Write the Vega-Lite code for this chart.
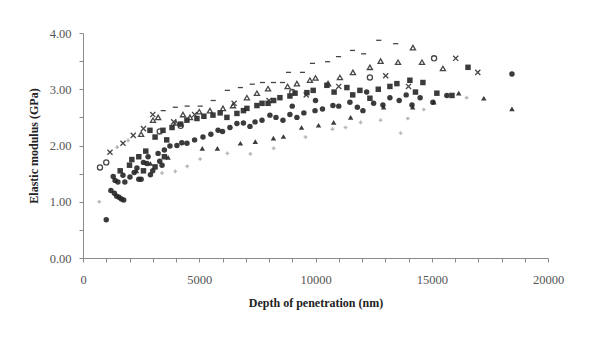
{
  "$schema": "https://vega.github.io/schema/vega-lite/v6.json",
  "width": 465,
  "height": 225,
  "autosize": {"type": "none"},
  "padding": {"left": 83, "top": 33, "right": 51, "bottom": 81},
  "background": "white",
  "config": {
    "view": {"stroke": null},
    "font": "Liberation Serif",
    "axis": {"grid": false, "domainColor": "#8a8a8a", "tickColor": "#8a8a8a", "labelColor": "#555", "labelFont": "Liberation Serif", "labelFontSize": 12.5, "titleFont": "Liberation Serif", "titleFontWeight": "bold", "titleFontSize": 12, "titleColor": "#222"}
  },
  "data": {"values": [
    {"s":"A","x":1000,"y":0.68},{"s":"A","x":1200,"y":1.20},{"s":"A","x":1350,"y":1.15},{"s":"A","x":1450,"y":1.10},{"s":"A","x":1550,"y":1.08},{"s":"A","x":1650,"y":1.05},{"s":"A","x":1750,"y":1.03},
    {"s":"A","x":1380,"y":1.38},{"s":"A","x":1720,"y":1.47},{"s":"A","x":2020,"y":1.44},{"s":"A","x":2320,"y":1.60},{"s":"A","x":2750,"y":1.68},{"s":"A","x":3230,"y":1.86},{"s":"A","x":3740,"y":1.99},{"s":"A","x":4040,"y":2.00},{"s":"A","x":4470,"y":2.04},{"s":"A","x":5160,"y":2.15},{"s":"A","x":5810,"y":2.27},{"s":"A","x":6320,"y":2.32},{"s":"A","x":6620,"y":2.39},{"s":"A","x":7180,"y":2.34},{"s":"A","x":7700,"y":2.45},{"s":"A","x":8040,"y":2.54},{"s":"A","x":8600,"y":2.45},{"s":"A","x":9200,"y":2.50},{"s":"A","x":9980,"y":2.62},{"s":"A","x":10750,"y":2.71},{"s":"A","x":11480,"y":2.77},{"s":"A","x":12040,"y":2.62},{"s":"A","x":12900,"y":2.72},{"s":"A","x":13600,"y":2.80},{"s":"A","x":14150,"y":2.72},{"s":"A","x":15050,"y":2.77},{"s":"A","x":15650,"y":2.89},{"s":"A","x":18450,"y":3.27},
    {"s":"A","x":2200,"y":1.52},{"s":"A","x":2500,"y":1.40},{"s":"A","x":2900,"y":1.48},{"s":"A","x":3300,"y":1.72},
    {"s":"A","x":3500,"y":1.92},{"s":"A","x":4250,"y":2.05},{"s":"A","x":4800,"y":2.10},{"s":"A","x":5500,"y":2.20},{"s":"A","x":6000,"y":2.25},{"s":"A","x":6900,"y":2.40},{"s":"A","x":7400,"y":2.42},{"s":"A","x":8300,"y":2.50},{"s":"A","x":8900,"y":2.55},{"s":"A","x":9500,"y":2.58},{"s":"A","x":10300,"y":2.65},{"s":"A","x":11000,"y":2.70},{"s":"A","x":11800,"y":2.68},{"s":"A","x":12500,"y":2.75},{"s":"A","x":13200,"y":2.85},{"s":"A","x":13900,"y":2.90},{"s":"A","x":14500,"y":2.85},{"s":"A","x":12200,"y":2.95},{"s":"A","x":10000,"y":2.80},{"s":"A","x":9000,"y":2.70},
    {"s":"A","x":1300,"y":1.45},{"s":"A","x":1500,"y":1.35},{"s":"A","x":1800,"y":1.35},{"s":"A","x":2400,"y":1.40},{"s":"A","x":2600,"y":1.70},{"s":"A","x":3000,"y":1.55},{"s":"A","x":3400,"y":1.65},{"s":"A","x":2800,"y":1.80},
    {"s":"B","x":1600,"y":1.55},{"s":"B","x":2000,"y":1.65},{"s":"B","x":2400,"y":1.80},{"s":"B","x":2600,"y":1.55},{"s":"B","x":3100,"y":1.62},{"s":"B","x":2100,"y":1.75},{"s":"B","x":2700,"y":1.90},{"s":"B","x":3500,"y":1.80},
    {"s":"B","x":2880,"y":2.27},{"s":"B","x":3440,"y":2.27},{"s":"B","x":3830,"y":2.32},{"s":"B","x":4470,"y":2.45},{"s":"B","x":4900,"y":2.48},{"s":"B","x":5590,"y":2.54},{"s":"B","x":6190,"y":2.50},{"s":"B","x":6620,"y":2.57},{"s":"B","x":7050,"y":2.66},{"s":"B","x":7480,"y":2.71},{"s":"B","x":7960,"y":2.75},{"s":"B","x":8470,"y":2.85},{"s":"B","x":9120,"y":2.93},{"s":"B","x":9630,"y":2.94},{"s":"B","x":10490,"y":3.07},{"s":"B","x":11350,"y":3.03},{"s":"B","x":11910,"y":2.98},{"s":"B","x":12340,"y":2.84},{"s":"B","x":13500,"y":3.10},{"s":"B","x":14060,"y":3.16},{"s":"B","x":14620,"y":3.12},{"s":"B","x":15220,"y":2.93},{"s":"B","x":15870,"y":2.89},{"s":"B","x":16560,"y":3.39},
    {"s":"B","x":4200,"y":2.38},{"s":"B","x":5200,"y":2.52},{"s":"B","x":5900,"y":2.58},{"s":"B","x":6900,"y":2.62},{"s":"B","x":7700,"y":2.75},{"s":"B","x":8200,"y":2.80},{"s":"B","x":8900,"y":2.88},{"s":"B","x":9900,"y":2.98},{"s":"B","x":10800,"y":2.95},{"s":"B","x":11600,"y":2.90},{"s":"B","x":12700,"y":3.00},{"s":"B","x":13200,"y":3.05},{"s":"B","x":14300,"y":2.95},{"s":"B","x":3100,"y":2.15},{"s":"B","x":3600,"y":2.10},
    {"s":"C","x":2300,"y":1.55},{"s":"C","x":2900,"y":1.68},{"s":"C","x":3660,"y":1.79},{"s":"C","x":5130,"y":1.95},{"s":"C","x":5780,"y":1.95},{"s":"C","x":6770,"y":2.04},{"s":"C","x":7410,"y":2.07},{"s":"C","x":8190,"y":2.13},{"s":"C","x":8620,"y":2.16},{"s":"C","x":9400,"y":2.32},{"s":"C","x":10130,"y":2.36},{"s":"C","x":10780,"y":2.41},{"s":"C","x":11510,"y":2.50},{"s":"C","x":12930,"y":2.68},{"s":"C","x":14180,"y":2.68},{"s":"C","x":15090,"y":2.77},{"s":"C","x":16160,"y":2.93},{"s":"C","x":17240,"y":2.84},{"s":"C","x":18450,"y":2.65},
    {"s":"D","x":2500,"y":2.20},{"s":"D","x":3010,"y":2.45},{"s":"D","x":3230,"y":2.50},{"s":"D","x":4000,"y":2.40},{"s":"D","x":4600,"y":2.50},{"s":"D","x":5460,"y":2.62},{"s":"D","x":6020,"y":2.66},{"s":"D","x":6450,"y":2.71},{"s":"D","x":7050,"y":2.85},{"s":"D","x":7480,"y":2.93},{"s":"D","x":7960,"y":3.01},{"s":"D","x":8800,"y":3.05},{"s":"D","x":9760,"y":3.16},{"s":"D","x":10540,"y":3.10},{"s":"D","x":11050,"y":3.21},{"s":"D","x":11610,"y":3.30},{"s":"D","x":12340,"y":3.39},{"s":"D","x":13550,"y":3.48},{"s":"D","x":14190,"y":3.74},{"s":"D","x":14580,"y":3.48},{"s":"D","x":15480,"y":3.37},
    {"s":"D","x":4300,"y":2.55},{"s":"D","x":5000,"y":2.60},{"s":"D","x":9200,"y":3.10},{"s":"D","x":10000,"y":3.20},{"s":"D","x":12800,"y":3.50},
    {"s":"E","x":730,"y":1.61},{"s":"E","x":1000,"y":1.70},{"s":"E","x":3300,"y":2.25},{"s":"E","x":4200,"y":2.35},{"s":"E","x":9000,"y":2.95},{"s":"E","x":12340,"y":3.21},{"s":"E","x":15100,"y":3.55},
    {"s":"F","x":1160,"y":1.88},{"s":"F","x":1720,"y":2.04},{"s":"F","x":2160,"y":2.18},{"s":"F","x":2600,"y":2.30},{"s":"F","x":3000,"y":2.55},{"s":"F","x":3900,"y":2.42},{"s":"F","x":4800,"y":2.55},{"s":"F","x":6500,"y":2.75},{"s":"F","x":8000,"y":2.80},{"s":"F","x":9600,"y":2.90},{"s":"F","x":11000,"y":3.05},{"s":"F","x":13020,"y":3.24},{"s":"F","x":14000,"y":3.05},{"s":"F","x":16030,"y":3.55},{"s":"F","x":16980,"y":3.30},
    {"s":"G","x":3450,"y":2.62},{"s":"G","x":3970,"y":2.68},{"s":"G","x":4480,"y":2.70},{"s":"G","x":5040,"y":2.70},{"s":"G","x":5600,"y":2.80},{"s":"G","x":6210,"y":2.98},{"s":"G","x":6770,"y":3.03},{"s":"G","x":7280,"y":3.09},{"s":"G","x":7720,"y":3.12},{"s":"G","x":8190,"y":3.12},{"s":"G","x":8580,"y":3.12},{"s":"G","x":8840,"y":3.30},{"s":"G","x":9440,"y":3.30},{"s":"G","x":9870,"y":3.46},{"s":"G","x":10520,"y":3.49},{"s":"G","x":10990,"y":3.58},{"s":"G","x":11590,"y":3.69},{"s":"G","x":12070,"y":3.63},{"s":"G","x":12720,"y":3.87},{"s":"G","x":13450,"y":3.81},
    {"s":"H","x":700,"y":1.00},{"s":"H","x":1470,"y":1.97},{"s":"H","x":1940,"y":2.09},{"s":"H","x":3400,"y":1.51},{"s":"H","x":3970,"y":1.54},{"s":"H","x":4480,"y":1.63},{"s":"H","x":5040,"y":1.76},{"s":"H","x":6210,"y":1.86},{"s":"H","x":7200,"y":1.85},{"s":"H","x":8200,"y":1.95},{"s":"H","x":9570,"y":2.15},{"s":"H","x":10730,"y":2.29},{"s":"H","x":11290,"y":2.32},{"s":"H","x":11940,"y":2.41},{"s":"H","x":12800,"y":2.45},{"s":"H","x":13970,"y":2.48},{"s":"H","x":13660,"y":2.22},{"s":"H","x":14660,"y":2.64},{"s":"H","x":16500,"y":2.85}
  ]},
  "encoding": {
    "x": {"field": "x", "type": "quantitative", "scale": {"domain": [0, 20000], "nice": false},
      "axis": {"title": "Depth of penetration (nm)", "values": [0,1000,2000,3000,4000,5000,6000,7000,8000,9000,10000,11000,12000,13000,14000,15000,16000,17000,18000,19000,20000],
        "labelExpr": "datum.value % 5000 == 0 ? datum.value : ''", "tickSize": 4, "labelPadding": 11, "titlePadding": 12, "labelFlush": false}},
    "y": {"field": "y", "type": "quantitative", "scale": {"domain": [0, 4], "nice": false},
      "axis": {"title": "Elastic modulus (GPa)", "values": [0,0.5,1,1.5,2,2.5,3,3.5,4],
        "labelExpr": "datum.value % 1 == 0 ? format(datum.value, '.2f') : ''", "tickSize": 4, "labelPadding": 8, "titlePadding": 9}},
    "shape": {"field": "s", "type": "nominal", "legend": null,
      "scale": {"domain": ["A","B","C","D","E","F","G","H"],
        "range": ["circle","square","triangle-up","triangle-up","circle","M-1,-1L1,1M-1,1L1,-1","M-1,0L1,0","cross"]}}
  },
  "layer": [
    {"transform": [{"filter": "indexof(['A','B','C'], datum.s) >= 0"}],
     "mark": {"type": "point", "filled": true, "size": 30, "color": "#262626", "opacity": 0.9}},
    {"transform": [{"filter": "indexof(['D','E','F','G'], datum.s) >= 0"}],
     "mark": {"type": "point", "filled": false, "size": 26, "color": "#333", "strokeWidth": 1.3, "opacity": 0.9}},
    {"transform": [{"filter": "datum.s == 'H'"}],
     "mark": {"type": "point", "filled": true, "size": 14, "color": "#9a9a9a"}}
  ]
}
